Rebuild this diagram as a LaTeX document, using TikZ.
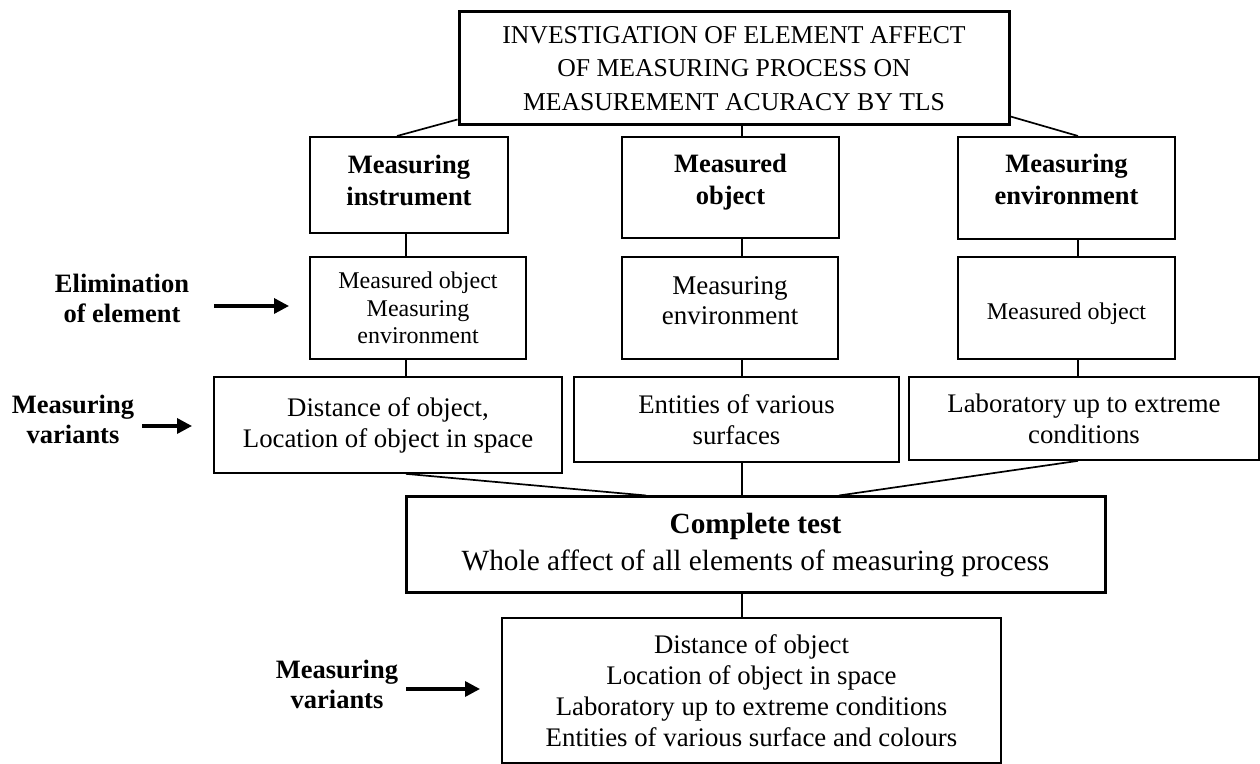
\documentclass[tikz,border=0pt]{standalone}
\usepackage{fontspec}
\setmainfont{Liberation Serif}
\usetikzlibrary{arrows.meta}

% pushes the text of a box up (extra depth) or down (extra height)
\newcommand{\liftby}[1]{\rule[-#1]{0pt}{0pt}}
\newcommand{\dropby}[1]{\rule{0pt}{#1}}

\tikzset{
  box/.style={draw, align=center, inner sep=0pt, line width=0.85pt},
  headbox/.style={box, line width=1pt, font=\fontsize{13.25}{16}\selectfont\bfseries},
  thickbox/.style={box, line width=1.5pt},
  link/.style={line width=0.85pt},
  arr/.style={line width=1.7pt, -{Triangle[length=7.5pt,width=7.5pt]}},
  lbl/.style={align=center, font=\fontsize{13.25}{15}\selectfont\bfseries},
}

\begin{document}
\begin{tikzpicture}[x=0.5pt,y=-0.5pt]
    \useasboundingbox (0,0) rectangle (1260,764);
    % columns
    \coordinate (cl) at (406,0);
    \coordinate (cm) at (742,0);
    \coordinate (cr) at (1078,0);

    \node[thickbox, minimum width=275pt, minimum height=56.5pt, font=\fontsize{12.85}{16.75}\selectfont] (top) at (734,68.5) {INVESTIGATION OF ELEMENT AFFECT\\OF MEASURING PROCESS ON\\MEASUREMENT ACURACY BY TLS};

    % elements
    \node[headbox, minimum width=99pt, minimum height=48pt] (l2l) at (409,185) {Measuring\\instrument\liftby{5pt}};
    \node[headbox, minimum width=108.5pt, minimum height=50.5pt] (l2m) at (730.5,187.5) {Measured\\object\liftby{8pt}};
    \node[headbox, minimum width=108.5pt, minimum height=51pt] (l2r) at (1066.5,188) {Measuring\\environment\liftby{9pt}};

    % elimination
    \node[box, minimum width=108pt, minimum height=51pt, font=\fontsize{12}{13.75}\selectfont] (l3l) at (418,308) {Measured object\\Measuring\\environment};
    \node[box, minimum width=108pt, minimum height=51pt, font=\fontsize{13.5}{15}\selectfont] (l3m) at (730,308) {Measuring\\environment\liftby{7pt}};
    \node[box, minimum width=108.5pt, minimum height=51pt, font=\fontsize{12}{13.75}\selectfont] (l3r) at (1066.5,308) {\dropby{14.3pt}Measured object};

    % variants
    \node[box, minimum width=174pt, minimum height=48pt, font=\fontsize{13.4}{15.5}\selectfont] (l4l) at (388,425) {Distance of object,\\Location of object in space};
    \node[box, minimum width=162.5pt, minimum height=42.5pt, font=\fontsize{13.4}{15.5}\selectfont] (l4m) at (736.5,419.5) {Entities of various\\surfaces};
    \node[box, minimum width=175pt, minimum height=41.5pt, font=\fontsize{13.4}{15.5}\selectfont] (l4r) at (1084,418.5) {Laboratory up to extreme\\conditions};

    \node[thickbox, minimum width=349.5pt, minimum height=48pt, font=\fontsize{14.65}{18}\selectfont] (comp) at (755.5,545) {\textbf{Complete test}\\Whole affect of all elements of measuring process};

    \node[box, minimum width=249.5pt, minimum height=72.5pt, font=\fontsize{13.4}{15.5}\selectfont] (bot) at (751.5,690.5) {Distance of object\\Location of object in space\\Laboratory up to extreme conditions\\Entities of various surface and colours};

    % side labels
    \node[lbl] (elim) at (122,298) {Elimination\\of element};
    \node[lbl] (var1) at (73,419.5) {Measuring\\variants};
    \node[lbl] (var2) at (337,684) {Measuring\\variants};

    \coordinate (a1s) at (214,306);
    \coordinate (a1e) at (289,306);
    \coordinate (a2s) at (142,426);
    \coordinate (a2e) at (192,426);
    \coordinate (a3s) at (406,689);
    \coordinate (a3e) at (480,689);
    \draw[arr] (a1s) -- (a1e);
    \draw[arr] (a2s) -- (a2e);
    \draw[arr] (a3s) -- (a3e);

    % links
    \draw[link] ([yshift=3.5pt]top.south west) -- ([xshift=-4.5pt]l2l.north -| cl);
    \draw[link] (top.south -| cm) -- (l2m.north -| cm);
    \draw[link] ([yshift=5pt]top.south east) -- (l2r.north -| cr);
    \draw[link] (l2l.south -| cl) -- (l3l.north -| cl);
    \draw[link] (l2m.south -| cm) -- (l3m.north -| cm);
    \draw[link] (l2r.south -| cr) -- (l3r.north -| cr);
    \draw[link] (l3l.south -| cl) -- (l4l.north -| cl);
    \draw[link] (l3m.south -| cm) -- (l4m.north -| cm);
    \draw[link] (l3r.south -| cr) -- (l4r.north -| cr);
    \draw[link] (l4l.south -| cl) -- ([xshift=-48pt]comp.north -| cm);
    \draw[link] (l4m.south -| cm) -- (comp.north -| cm);
    \draw[link] (l4r.south -| cr) -- ([xshift=48.5pt]comp.north -| cm);
    \draw[link] (comp.south -| cm) -- (bot.north -| cm);
\end{tikzpicture}
\end{document}
